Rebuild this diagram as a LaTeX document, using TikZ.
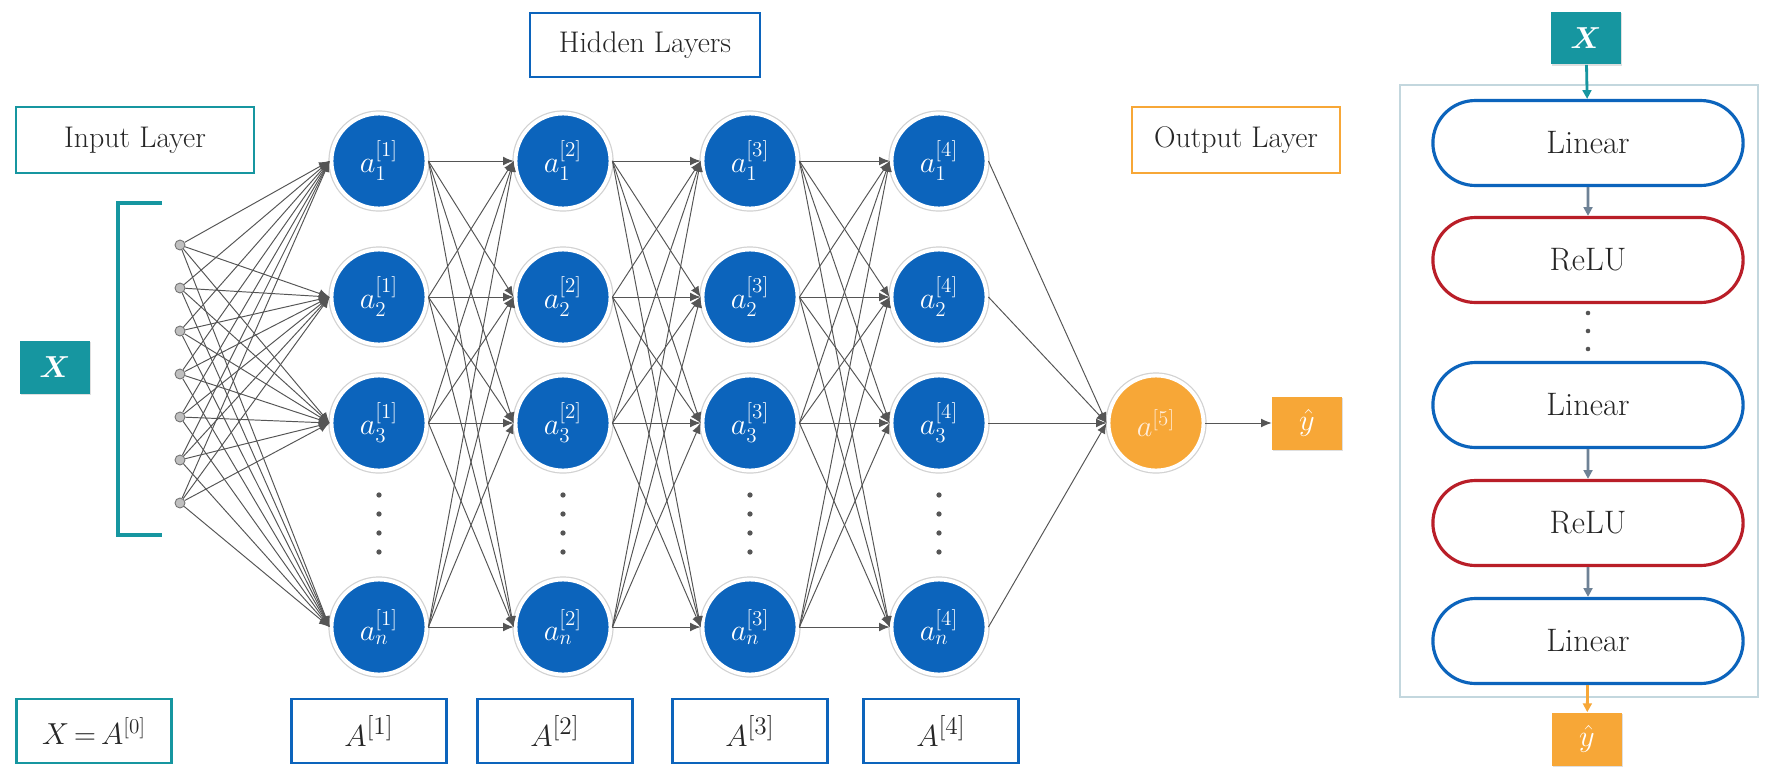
\documentclass[tikz,border=0pt]{standalone}
\usepackage{amsmath,amssymb}
\usepackage{tikz}
\usetikzlibrary{arrows.meta,shapes.misc,shadows}

\definecolor{nnblue}{RGB}{12,100,188}
\definecolor{nnteal}{RGB}{22,150,160}
\definecolor{nnorange}{RGB}{247,167,55}
\definecolor{nnred}{RGB}{185,30,40}
\definecolor{nngray}{RGB}{85,85,85}
\definecolor{nnsteel}{RGB}{110,130,150}
\definecolor{nnpanel}{RGB}{195,215,222}

\tikzset{
	neuron/.style={circle, draw=white, line width=2.2pt, minimum size=1.9cm, inner sep=0pt, text=white,
		font=\fontsize{18}{21}\selectfont, preaction={draw=gray!35, line width=3.6pt}},
	inpt/.style={circle, fill=gray!50, draw=gray!90!black, line width=0.5pt, minimum size=0.2cm, inner sep=0pt},
	lbl/.style={draw, line width=1.6pt, fill=white, inner sep=0pt, minimum height=1.28cm, text=black!85,
		font=\fontsize{17}{20}\selectfont},
	sqr/.style={inner sep=0pt, minimum width=1.4cm, minimum height=1.06cm, text=white, font=\fontsize{17}{20}\selectfont,
		drop shadow={shadow xshift=0.6pt, shadow yshift=-0.8pt, opacity=0.25, fill=gray}},
	blk/.style={rounded rectangle, line width=1.8pt, fill=white, minimum width=6.44cm, minimum height=1.7cm, text=black!85,
		font=\fontsize{18.5}{22}\selectfont},
	edge/.style={draw=nngray, line width=0.55pt, -{Latex[length=6pt,width=5pt]}},
	flow/.style={line width=1.6pt, -{Triangle[length=5pt,width=5pt]}}
}

\begin{document}
\begin{tikzpicture}[x=0.02cm, y=-0.02cm]
	\useasboundingbox[fill=white] (0,0) rectangle (1765,768);
	% Labels:
	\node[lbl, draw=nnblue, minimum width=4.6cm] (Rect1) at (645,45) {Hidden Layers};
	\node[lbl, draw=nnteal, minimum width=4.76cm, minimum height=1.32cm] (Rect2) at (135,140) {Input Layer};
	\node[lbl, draw=nnorange, minimum width=4.16cm, minimum height=1.32cm] (Rect3) at (1236,140) {Output Layer};
	\node[lbl, draw=nnteal, minimum width=3.1cm, font=\fontsize{17}{20}\selectfont] (Rect4) at (94,731) {$X\,{=}\,A^{[0]}$};
	\node[lbl, draw=nnblue, minimum width=3.1cm, font=\fontsize{19}{22}\selectfont] (Rect5) at (369,731) {$A^{[1]}$};
	\node[lbl, draw=nnblue, minimum width=3.1cm, font=\fontsize{19}{22}\selectfont] (Rect6) at (555,731) {$A^{[2]}$};
	\node[lbl, draw=nnblue, minimum width=3.1cm, font=\fontsize{19}{22}\selectfont] (Rect7) at (750,731) {$A^{[3]}$};
	\node[lbl, draw=nnblue, minimum width=3.1cm, font=\fontsize{19}{22}\selectfont] (Rect8) at (941,731) {$A^{[4]}$};

	% Input side:
	\node[sqr, fill=nnteal] (X1) at (55,367) {$\boldsymbol{X}$};
	\draw[nnteal, line width=2.8pt] (162,203) -- (118,203) -- (118,535) -- (162,535);
	\foreach \i in {1,...,7}
		\node[inpt] (I\i) at (180,{202+43*\i}) {};

	% Hidden layers:
	\foreach \k/\x in {1/379,2/563,3/750,4/939} {
		\node[neuron, fill=nnblue] (N\k1) at (\x,161) {$a_1^{[\k]}$};
		\node[neuron, fill=nnblue] (N\k2) at (\x,297) {$a_2^{[\k]}$};
		\node[neuron, fill=nnblue] (N\k3) at (\x,423) {$a_3^{[\k]}$};
		\node[neuron, fill=nnblue] (N\k4) at (\x,627) {$a_n^{[\k]}$};
		\foreach \y in {495,514,533,552}
			\fill[nngray] (\x,\y) circle (1.5pt);
	}
	\node[neuron, fill=nnorange, text=orange!15] (Out) at (1156,423) {$a^{[5]}$};
	\node[sqr, fill=nnorange] (Yhat1) at (1307,423) {$\hat{y}$};

	% Wires:
	\foreach \i in {1,...,7}
		\foreach \j in {1,...,4}
			\draw[edge] (I\i) -- (N1\j.west);
	\foreach \k/\m in {1/2,2/3,3/4}
		\foreach \i in {1,...,4}
			\foreach \j in {1,...,4}
				\draw[edge] (N\k\i.east) -- (N\m\j.west);
	\foreach \i in {1,...,4}
		\draw[edge] (N4\i.east) -- (Out.west);
	\draw[edge] (Out) -- (Yhat1);

	% Block view:
	\draw[nnpanel, line width=0.8pt] (1400,85) rectangle (1758,697);
	\node[sqr, fill=nnteal] (X2) at (1586,38) {$\boldsymbol{X}$};
	\node[blk, draw=nnblue] (B1) at (1588,143) {Linear};
	\node[blk, draw=nnred] (B2) at (1588,260) {ReLU};
	\node[blk, draw=nnblue] (B3) at (1588,405) {Linear};
	\node[blk, draw=nnred] (B4) at (1588,523) {ReLU};
	\node[blk, draw=nnblue] (B5) at (1588,641) {Linear};
	\node[sqr, fill=nnorange] (Yhat2) at (1587,739) {$\hat{y}$};
	\foreach \y in {313,331,349}
		\fill[nngray] (1588,\y) circle (1.3pt);
	\draw[flow, nnteal] (X2) -- (B1);
	\draw[flow, nnsteel] (B1) -- (B2);
	\draw[flow, nnsteel] (B3) -- (B4);
	\draw[flow, nnsteel] (B4) -- (B5);
	\draw[flow, nnorange] (B5) -- (Yhat2);
\end{tikzpicture}
\end{document}
